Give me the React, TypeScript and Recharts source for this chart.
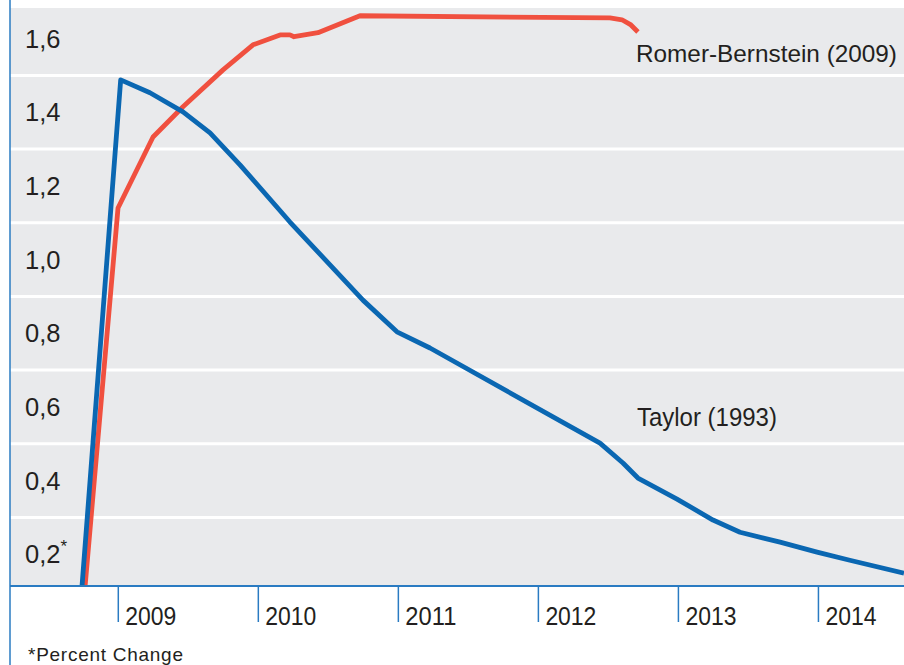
import React from 'react';
import { ComposedChart, Line, XAxis, YAxis, CartesianGrid, ReferenceDot } from 'recharts';

// ---- data ----
const seriesNames = ['Taylor (1993)', 'Romer-Bernstein (2009)'];

const taylorT = [2008.741, 2009.017, 2009.226, 2009.462, 2009.655, 2009.869, 2010.226, 2010.747, 2010.99, 2011.226, 2012.44, 2012.604, 2012.711, 2012.99, 2013.247, 2013.44, 2013.726, 2013.99, 2014.224, 2014.611];
const taylorV = [0.114, 1.488, 1.453, 1.401, 1.344, 1.257, 1.102, 0.89, 0.804, 0.76, 0.502, 0.448, 0.407, 0.35, 0.293, 0.26, 0.233, 0.206, 0.184, 0.149];

const romerT = [2008.763, 2008.998, 2009.248, 2009.462, 2009.748, 2009.962, 2010.155, 2010.226, 2010.255, 2010.426, 2010.726, 2012.511, 2012.597, 2012.661, 2012.711];
const romerV = [0.114, 1.14, 1.333, 1.415, 1.515, 1.583, 1.61, 1.61, 1.605, 1.616, 1.662, 1.656, 1.651, 1.637, 1.618];

const yTicks = [0.2, 0.4, 0.6, 0.8, 1.0, 1.2, 1.4, 1.6];
const yTickLabels = ['0,2', '0,4', '0,6', '0,8', '1,0', '1,2', '1,4', '1,6'];
const gridValues = [0.3, 0.5, 0.7, 0.9, 1.1, 1.3, 1.5];
const xTicks = [2009, 2010, 2011, 2012, 2013, 2014];
const xTickLabels = ['2009', '2010', '2011', '2012', '2013', '2014'];
const footnote = '*Percent Change';

// ---- layout / style ----
const X_DOMAIN: [number, number] = [2008.2266, 2014.611];
const Y_DOMAIN: [number, number] = [0.114, 1.683];
const TAYLOR_LABEL_AT = { t: 2012.704, v: 0.548 };
const ROMER_LABEL_AT = { t: 2012.697, v: 1.537 };

const W = 904;
const H = 665;
const BLUE = '#0a67b2';
const RED = '#f0503f';
const AXIS = '#2a7bc2';
const BG = '#e9eaec';
const TEXT = '#231f20';
const SANS = "'Liberation Sans', Arial, sans-serif";

const taylorData = taylorT.map((t, i) => ({ t, v: taylorV[i] }));
const romerData = romerT.map((t, i) => ({ t, v: romerV[i] }));

const YTick = (props: any) => {
  const { y, payload } = props;
  const idx = yTicks.indexOf(payload.value);
  const label = idx >= 0 ? yTickLabels[idx] : String(payload.value);
  return (
    <text x={25} y={y + 9} fontFamily={SANS} fontSize={25.5} fill={TEXT}>
      {label}
      {idx === 0 ? (
        <tspan fontSize={17} dy={-11}>*</tspan>
      ) : null}
    </text>
  );
};

const XTick = (props: any) => {
  const { x, y, payload } = props;
  const idx = xTicks.indexOf(payload.value);
  const label = idx >= 0 ? xTickLabels[idx] : String(payload.value);
  return (
    <text x={x + 7} y={y + 1} fontFamily={SANS} fontSize={25.5} textLength={51} lengthAdjust="spacingAndGlyphs" fill={TEXT}>
      {label}
    </text>
  );
};

const makeLabel = (text: string, len: number, size: number) => (p: any) => (
  <text x={p.cx} y={p.cy} fontFamily={SANS} fontSize={size} textLength={len} lengthAdjust="spacingAndGlyphs" fill={TEXT}>
    {text}
  </text>
);

export default function App() {
  return (
    <div style={{ position: 'absolute', left: 0, top: 0, width: W, height: H, background: '#fff', overflow: 'hidden' }}>
      <ComposedChart width={W} height={H} margin={{ top: 8, right: 0, bottom: 0, left: 10 }}>
        <CartesianGrid
          fill={BG}
          fillOpacity={1}
          vertical={false}
          horizontal
          horizontalValues={gridValues}
          stroke="#ffffff"
          strokeWidth={3}
          strokeDasharray=""
        />
        <XAxis
          dataKey="t"
          type="number"
          domain={X_DOMAIN}
          allowDataOverflow
          ticks={xTicks}
          interval={0}
          height={79}
          axisLine={{ stroke: AXIS, strokeWidth: 2 }}
          tickLine={{ stroke: AXIS, strokeWidth: 1.5 }}
          tickSize={36}
          tick={<XTick />}
        />
        <YAxis
          dataKey="v"
          type="number"
          domain={Y_DOMAIN}
          allowDataOverflow
          ticks={yTicks}
          interval={0}
          width={60}
          mirror
          axisLine={false}
          tickLine={false}
          tick={<YTick />}
        />
        <Line data={romerData} dataKey="v" name={seriesNames[1]} type="linear" stroke={RED} strokeWidth={4.8} dot={false} isAnimationActive={false} strokeLinejoin="round" strokeLinecap="butt" />
        <Line data={taylorData} dataKey="v" name={seriesNames[0]} type="linear" stroke={BLUE} strokeWidth={4.8} dot={false} isAnimationActive={false} strokeLinejoin="round" strokeLinecap="butt" />
        <ReferenceDot x={ROMER_LABEL_AT.t} y={ROMER_LABEL_AT.v} r={0} ifOverflow="visible" shape={makeLabel(seriesNames[1], 261, 24.5)} />
        <ReferenceDot x={TAYLOR_LABEL_AT.t} y={TAYLOR_LABEL_AT.v} r={0} ifOverflow="visible" shape={makeLabel(seriesNames[0], 140, 25.5)} />
      </ComposedChart>
      <svg width={W} height={H} style={{ position: 'absolute', left: 0, top: 0, pointerEvents: 'none' }}>
        <line x1={10} y1={0} x2={10} y2={H} stroke={AXIS} strokeWidth={1.5} />
        <text x={28} y={661} fontFamily={SANS} fontSize={19} textLength={155} lengthAdjust="spacing" fill={TEXT}>{footnote}</text>
      </svg>
    </div>
  );
}
